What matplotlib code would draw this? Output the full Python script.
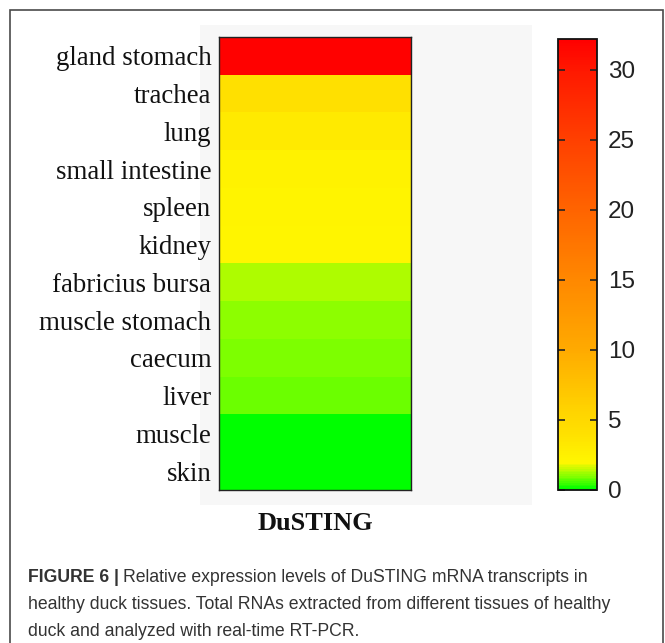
import numpy as np
import matplotlib
matplotlib.use("Agg")
import matplotlib.pyplot as plt
from matplotlib.colors import LinearSegmentedColormap, Normalize
from matplotlib.patches import Rectangle

# --- data (relative expression) ------------------------------------------------------
tissues = ["gland stomach", "trachea", "lung", "small intestine", "spleen", "kidney",
           "fabricius bursa", "muscle stomach", "caecum", "liver", "muscle", "skin"]
expression = [32.0, 4.0, 3.1, 2.3, 2.15, 2.08, 1.36, 1.1, 1.0, 0.88, 0.12, 0.02]
cbar_ticks = [0, 5, 10, 15, 20, 25, 30]
vmax = 32.2

# green -> yellow -> orange -> red, with the yellow reached very early
stops = [(0.0, "#00ff00"), (0.9, "#80ff00"), (1.9, "#fff700"), (4.0, "#ffe000"),
         (6.0, "#ffd000"), (10.0, "#ffaa00"), (15.0, "#ff8800"), (20.0, "#ff6400"),
         (25.0, "#ff4000"), (30.0, "#ff1800"), (vmax, "#ff0000")]
cmap = LinearSegmentedColormap.from_list("dusting", [(v / vmax, c) for v, c in stops])
norm = Normalize(vmin=0, vmax=vmax)

W, H = 665, 643
fig = plt.figure(figsize=(W / 100, H / 100), dpi=100)
fig.patch.set_facecolor("white")


def fx(px):
    return px / W


def fy(py):
    return 1 - py / H


# outer frame (open at the bottom, runs off the image)
fig.patches.append(Rectangle((fx(10), fy(660)), fx(653), fy(10) - fy(660), transform=fig.transFigure,
                             fill=False, edgecolor="#4a4a4a", linewidth=1.2, zorder=-10))
# faint grey panel behind the heat map
fig.patches.append(Rectangle((fx(200), fy(505)), fx(332), fy(25) - fy(505), transform=fig.transFigure,
                             facecolor="#f7f7f7", edgecolor="none", zorder=-10))

# --- heat map column -----------------------------------------------------------------
ax = fig.add_axes([fx(219), fy(490), fx(411) - fx(219), fy(37) - fy(490)])
ax.patch.set_alpha(0)
vals = np.array(expression).reshape(-1, 1)
ax.imshow(vals, aspect="auto", cmap=cmap, norm=norm, interpolation="nearest",
          extent=(0, 1, len(tissues) - 0.5, -0.5))
ax.set_xlim(0, 1)
ax.set_xticks([])
ax.set_yticks(range(len(tissues)))
ax.set_yticklabels(tissues, fontfamily="Liberation Serif", fontsize=19.4, color="#111111")
ax.tick_params(axis="y", length=0, pad=5.5)
for s in ax.spines.values():
    s.set_linewidth(1.0)
    s.set_edgecolor("#222222")
ax.set_xlabel("DuSTING", fontfamily="Liberation Serif", fontsize=19, fontweight="bold",
              labelpad=16, color="#111111")

# --- colour bar ----------------------------------------------------------------------
cax = fig.add_axes([fx(558), fy(490), fx(597) - fx(558), fy(39) - fy(490)])
sm = plt.cm.ScalarMappable(norm=norm, cmap=cmap)
cb = fig.colorbar(sm, cax=cax, ticks=cbar_ticks)
cb.outline.set_linewidth(1.3)
cb.outline.set_edgecolor("#111111")
cax.tick_params(left=True, right=True, direction="in", length=5, width=1.2, color="#222222",
                labelsize=17.5, pad=8)
for t in cax.get_yticklabels():
    t.set_fontfamily("Liberation Sans")
    t.set_color("#222222")

# --- caption -------------------------------------------------------------------------
cap_kw = dict(fontfamily="Liberation Sans", fontsize=12.7, color="#333333", va="baseline", ha="left")
head = fig.text(fx(28), fy(582), "FIGURE 6 |", fontweight="bold", **cap_kw)
bb = head.get_window_extent(fig.canvas.get_renderer())
fig.text((bb.x1 + 4) / W, fy(582), "Relative expression levels of DuSTING mRNA transcripts in", **cap_kw)
fig.text(fx(28), fy(609), "healthy duck tissues. Total RNAs extracted from different tissues of healthy",
         **cap_kw)
fig.text(fx(28), fy(636), "duck and analyzed with real-time RT-PCR.", **cap_kw)

fig.savefig("out.png", dpi=100)
